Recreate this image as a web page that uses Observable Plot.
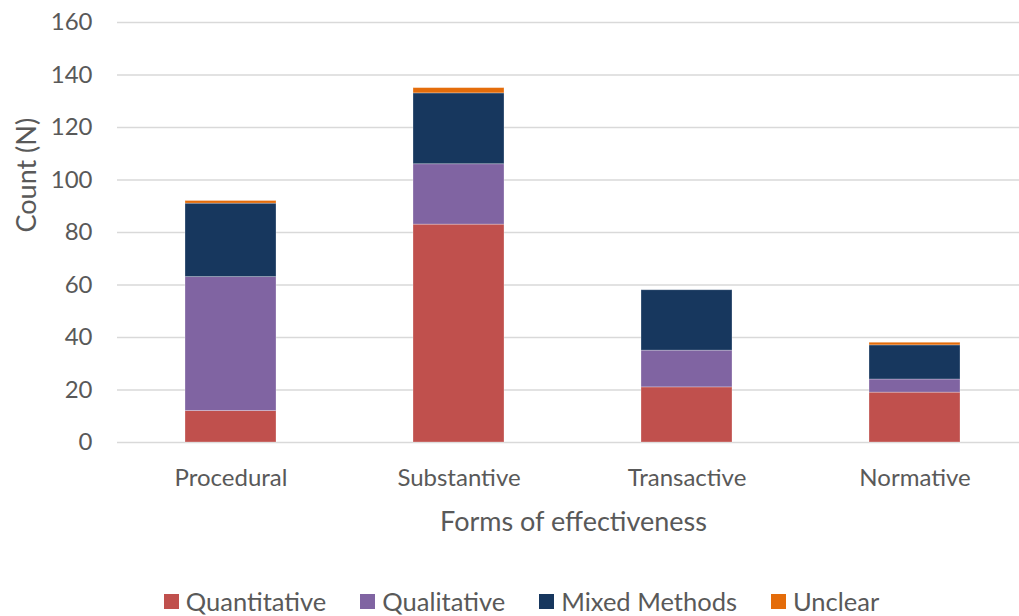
<!DOCTYPE html>
<html>
<head>
<meta charset="utf-8">
<script src="https://cdn.jsdelivr.net/npm/d3@7"></script>
<script src="https://cdn.jsdelivr.net/npm/@observablehq/plot@0.6"></script>
<style>
  body { margin: 0; background: #fff; font-family: Lato, "Open Sans", sans-serif; }
  #chart { width: 1019px; height: 616px; position: relative; overflow: hidden; }
  .legend { position: absolute; top: 585px; left: 12px; width: 1019px; display: flex; justify-content: center; gap: 34px; font-size: 25.5px; line-height: 32px; color: #595959; font-family: Lato, sans-serif; }
  .legend .item { display: flex; align-items: center; gap: 7px; }
  .legend .sw { width: 15px; height: 15px; display: inline-block; }
</style>
</head>
<body>
<div id="chart"></div>
<script>
const categories = ["Procedural", "Substantive", "Transactive", "Normative"];
const seriesNames = ["Quantitative", "Qualitative", "Mixed Methods", "Unclear"];
const quantitative = [12, 83, 21, 19];
const qualitative = [51, 23, 14, 5];
const mixedMethods = [28, 27, 23, 13];
const unclear = [1, 2, 0, 1];
const colors = ["#C0504D", "#8064A2", "#17375E", "#E46C0A"];
const yTicks = [0, 20, 40, 60, 80, 100, 120, 140, 160];
const yLabel = "Count (N)";
const xLabel = "Forms of effectiveness";

const seriesValues = [quantitative, qualitative, mixedMethods, unclear];
const rows = [];
seriesNames.forEach((s, si) => {
  categories.forEach((c, ci) => {
    rows.push({category: c, series: s, value: seriesValues[si][ci]});
  });
});

const plot = Plot.plot({
  width: 1019,
  height: 560,
  marginLeft: 117,
  marginRight: 0,
  marginTop: 22,
  marginBottom: 118,
  style: {fontFamily: "Lato, 'Open Sans', sans-serif", fontSize: "24px", color: "#595959"},
  x: {domain: categories, range: [117, 1029], paddingInner: 0.6, paddingOuter: 0.3},
  y: {domain: [0, 160], ticks: yTicks},
  color: {domain: seriesNames, range: colors},
  marks: [
    Plot.gridY(yTicks, {stroke: "#d9d9d9", strokeOpacity: 1, strokeWidth: 1.3}),
    Plot.barY(rows, Plot.stackY({order: seriesNames}, {x: "category", y: "value", fill: "series", stroke: "white", strokeOpacity: 0.35, strokeWidth: 0.8})),
    Plot.axisY(yTicks, {tickSize: 0, tickPadding: 25, fontSize: 24, fill: "#595959", label: null}),
    Plot.axisX({tickSize: 0, tickPadding: 26, fontSize: 24, fill: "#595959", label: null}),
    Plot.text([yLabel], {frameAnchor: "left", dx: -90, rotate: -90, fontSize: 27, fill: "#595959"}),
    Plot.text([xLabel], {frameAnchor: "bottom", dx: 5, dy: 88, fontSize: 27, fill: "#595959"})
  ]
});
document.getElementById("chart").appendChild(plot);

const legend = document.createElement("div");
legend.className = "legend";
seriesNames.forEach((s, i) => {
  const item = document.createElement("div");
  item.className = "item";
  const sw = document.createElement("span");
  sw.className = "sw";
  sw.style.background = colors[i];
  const t = document.createElement("span");
  t.textContent = s;
  item.appendChild(sw);
  item.appendChild(t);
  legend.appendChild(item);
});
document.getElementById("chart").appendChild(legend);
</script>
</body>
</html>
